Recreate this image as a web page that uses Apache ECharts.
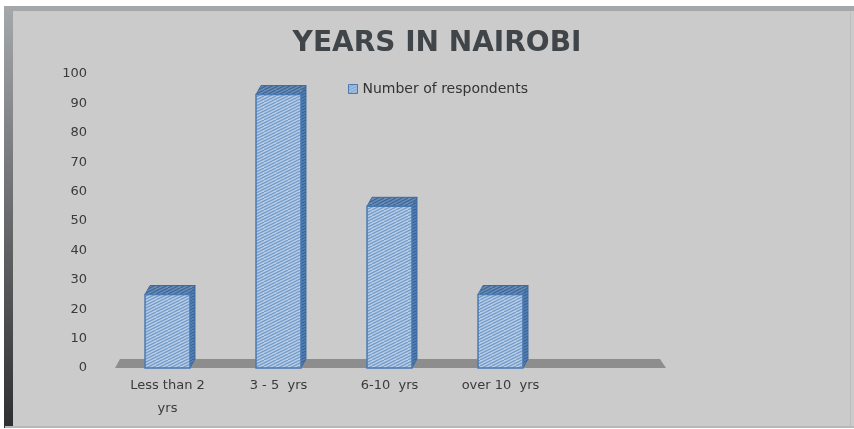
<!DOCTYPE html>
<html>
<head>
<meta charset="utf-8">
<script src="https://cdn.jsdelivr.net/npm/echarts@6/dist/echarts.min.js"></script>
<style>
  html, body { margin: 0; padding: 0; background: #ffffff; }
  #chart { width: 854px; height: 429px; }
</style>
</head>
<body>
<div id="chart"></div>
<script>
// Years lived in Nairobi, number of respondents per group
const categories = ['Less than 2\nyrs', '3 - 5  yrs', '6-10  yrs', 'over 10  yrs', ''];
const respondents = [25, 93, 55, 25, null];
const seriesName = 'Number of respondents';
const yTicks = { min: 0, max: 100, interval: 10 };

// Hatched fill: light blue base with rising diagonal stripes
function makeHatch(base, stripe, width) {
  const c = document.createElement('canvas');
  c.width = 12; c.height = 6;
  const g = c.getContext('2d');
  g.fillStyle = base;
  g.fillRect(0, 0, 12, 6);
  g.strokeStyle = stripe;
  g.lineWidth = width;
  g.beginPath();
  g.moveTo(-2, 7); g.lineTo(14, -1);
  g.moveTo(-2, 4); g.lineTo(8, -1);
  g.moveTo(4, 7); g.lineTo(14, 2);
  g.moveTo(-2, 10); g.lineTo(14, 2);
  g.stroke();
  return { image: c, repeat: 'repeat' };
}
const frontFill = makeHatch('#b6cde7', '#7399c8', 1.15);
const sideFill = makeHatch('#5681b4', '#335f94', 1.1);
const topFill = makeHatch('#6b8fb9', '#3e6594', 1.2);

const DX = 5, DY = -9;

function barItem(params, api) {
  const v = api.value(1);
  if (v == null || isNaN(v)) return null;
  const top = api.coord([api.value(0), v]);
  const base = api.coord([api.value(0), 0]);
  const band = api.size([1, 0])[0];
  const w = band * 0.405;
  const L = top[0] - w / 2, R = L + w, T = top[1], B = base[1];
  const edge = '#4a7ab3';
  return {
    type: 'group',
    children: [
      { type: 'polygon', shape: { points: [[R, T], [R + DX, T + DY], [R + DX, B + DY], [R, B]] },
        style: { fill: sideFill, stroke: '#3d6aa0', lineWidth: 1 } },
      { type: 'polygon', shape: { points: [[L, T], [L + DX, T + DY], [R + DX, T + DY], [R, T]] },
        style: { fill: topFill, stroke: '#3d6aa0', lineWidth: 1 } },
      { type: 'rect', shape: { x: L, y: T, width: w, height: B - T },
        style: { fill: frontFill, stroke: edge, lineWidth: 1.5 } }
    ]
  };
}

// Floor slab under the bars, spanning the whole category band
function floorItem(params, api) {
  const band = api.size([1, 0])[0];
  const first = api.coord([0, 0]);
  const last = api.coord([categories.length - 1, 0]);
  const x0 = first[0] - band / 2 + 3, x1 = last[0] + band / 2 - 1, y = first[1];
  return {
    type: 'polygon',
    shape: { points: [[x0 + 5, y + DY], [x1 - 6, y + DY], [x1, y], [x0, y]] },
    style: { fill: '#8d8d8d' }
  };
}

const chart = echarts.init(document.getElementById('chart'), null, { renderer: 'canvas' });
chart.setOption({
  backgroundColor: '#ffffff',
  animation: false,
  graphic: [
    { type: 'rect', shape: { x: 5, y: 6, width: 849, height: 422 }, style: { fill: '#cbcbcb' }, z: -10, silent: true },
    { type: 'rect', shape: { x: 5, y: 6, width: 849, height: 5 }, style: { fill: '#a5a8ab' }, z: -9, silent: true },
    { type: 'rect', shape: { x: 4, y: 6, width: 9, height: 422 }, z: -9, silent: true,
      style: { fill: new echarts.graphic.LinearGradient(0, 0, 0, 1, [
        { offset: 0, color: '#a5a8ab' }, { offset: 0.45, color: '#6e7073' }, { offset: 1, color: '#2e2f30' }]) } },
    { type: 'rect', shape: { x: 5, y: 426, width: 849, height: 2 }, style: { fill: '#b8b8b8' }, z: -9, silent: true },
    { type: 'rect', shape: { x: 850, y: 11, width: 1, height: 415 }, style: { fill: '#bdbdbd' }, z: -9, silent: true }
  ],
  title: {
    text: 'YEARS IN NAIROBI',
    left: 432, textAlign: 'center', top: 25,
    textStyle: { fontFamily: 'DejaVu Sans', fontWeight: 'bold', fontSize: 28, color: '#404549' }
  },
  legend: {
    left: 343, top: 77,
    itemWidth: 9, itemHeight: 9, itemGap: 6,
    data: [{ name: seriesName, icon: 'rect', itemStyle: { color: frontFill, borderColor: '#4a7ab3', borderWidth: 1 } }],
    textStyle: { fontFamily: 'DejaVu Sans', fontSize: 14, color: '#333333' }
  },
  grid: { left: 112, right: 187, top: 74, bottom: 61, containLabel: false },
  xAxis: {
    type: 'category',
    data: categories,
    axisLine: { show: false },
    axisTick: { show: false },
    axisLabel: { margin: 6, interval: 0, fontFamily: 'DejaVu Sans', fontSize: 13, lineHeight: 23, color: '#3a3a3a' }
  },
  yAxis: {
    type: 'value',
    min: yTicks.min, max: yTicks.max, interval: yTicks.interval,
    axisLine: { show: false },
    axisTick: { show: false },
    splitLine: { show: false },
    axisLabel: { margin: 25, fontFamily: 'DejaVu Sans', fontSize: 13, color: '#3a3a3a' }
  },
  series: [
    { type: 'custom', name: 'floor', silent: true, z: 1, renderItem: floorItem,
      data: [[0, 0]], encode: { x: 0, y: 1 } },
    { type: 'custom', name: seriesName, z: 2, renderItem: barItem,
      data: respondents.map((v, i) => [i, v]), encode: { x: 0, y: 1 } }
  ]
});
</script>
</body>
</html>
